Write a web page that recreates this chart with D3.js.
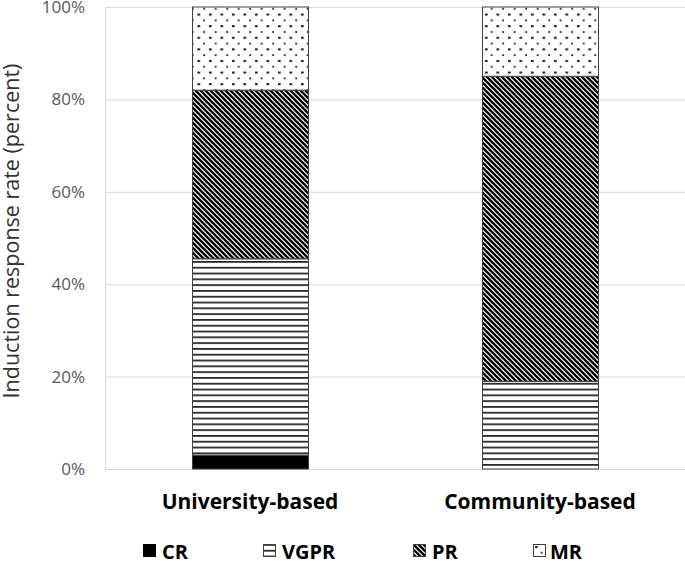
<!DOCTYPE html>
<html><head><meta charset="utf-8">
<script src="https://cdn.jsdelivr.net/npm/d3@7"></script>
<style>body{margin:0;background:#fff;} svg{display:block;}</style>
</head><body>
<svg id="c" width="685" height="561"></svg>
<script>
const categories = ["University-based", "Community-based"];
const seriesNames = ["CR", "VGPR", "PR", "MR"];
const CR = [3, 0];
const VGPR = [42.5, 19];
const PR = [36.5, 66];
const MR = [18, 15];
const yTicks = [0, 20, 40, 60, 80, 100];

const svg = d3.select("#c");
const m = {l:105, r:685, t:7, b:469};
const font = "'Open Sans', sans-serif";

const defs = svg.append("defs");
// VGPR horizontal lines
const pV = defs.append("pattern").attr("id","pV").attr("patternUnits","userSpaceOnUse")
  .attr("width",8).attr("height",5.8);
pV.append("rect").attr("width",8).attr("height",5.8).attr("fill","#fff");
pV.append("rect").attr("y",0).attr("width",8).attr("height",1.8).attr("fill","#2a2a2a");
// PR diagonal stripes
const pP = defs.append("pattern").attr("id","pP").attr("patternUnits","userSpaceOnUse")
  .attr("width",5).attr("height",5);
pP.append("rect").attr("width",5).attr("height",5).attr("fill","#fff");
pP.append("path").attr("d","M-1,-1 L6,6 M-1,4 L1,6 M4,-1 L6,1").attr("stroke","#000").attr("stroke-width",2.3);
// MR dots
const pM = defs.append("pattern").attr("id","pM").attr("patternUnits","userSpaceOnUse")
  .attr("width",11.5).attr("height",11.6);
pM.append("rect").attr("width",11.5).attr("height",11.6).attr("fill","#fff");
pM.append("rect").attr("x",2).attr("y",2).attr("width",2.6).attr("height",2).attr("fill","#111");
pM.append("rect").attr("x",7.8).attr("y",7.9).attr("width",1.8).attr("height",1.8).attr("fill","#222");

const fills = {CR:"#000", VGPR:"url(#pV)", PR:"url(#pP)", MR:"url(#pM)"};

const x = d3.scaleBand().domain(categories).range([m.l, m.r]).paddingInner(0.6).paddingOuter(0.3);
const y = d3.scaleLinear().domain([0,100]).range([m.b, m.t]);

// gridlines
svg.append("g").selectAll("line").data(yTicks).join("line")
  .attr("x1", m.l).attr("x2", m.r).attr("y1", d=>y(d)+0.5).attr("y2", d=>y(d)+0.5)
  .attr("stroke", "#d9d9d9").attr("stroke-width",1);
// y axis line
svg.append("line").attr("x1",m.l+0.5).attr("x2",m.l+0.5).attr("y1",m.t).attr("y2",m.b)
  .attr("stroke","#d9d9d9");

// y tick labels
const yAxis = d3.axisLeft(y).tickValues(yTicks).tickFormat(d=>d+"%").tickSize(0).tickPadding(20);
const ga = svg.append("g").attr("transform",`translate(${m.l},0)`).call(yAxis);
ga.select(".domain").remove();
ga.selectAll("text").attr("font-family",font).attr("font-size",17).attr("fill","#595959");

// stacks
const rows = categories.map((c,i)=>({cat:c, CR:CR[i], VGPR:VGPR[i], PR:PR[i], MR:MR[i]}));
const stack = d3.stack().keys(seriesNames)(rows);
svg.append("g").selectAll("g").data(stack).join("g")
  .attr("fill", d=>fills[d.key])
  .selectAll("rect").data(d=>d.filter(p=>p[1]-p[0]>0)).join("rect")
  .attr("x", d=>x(d.data.cat)+0.5).attr("width", x.bandwidth())
  .attr("y", d=>y(d[1])).attr("height", d=>y(d[0])-y(d[1]))
  .attr("stroke","#404040").attr("stroke-width",1);

// category labels
svg.append("g").selectAll("text").data(categories).join("text")
  .attr("x", d=>x(d)+x.bandwidth()/2).attr("y", 509)
  .attr("text-anchor","middle").attr("font-family",font).attr("font-weight","bold")
  .attr("font-size",21).attr("fill","#000").text(d=>d);

// y title
svg.append("text").attr("transform","translate(19,231) rotate(-90)")
  .attr("text-anchor","middle").attr("font-family",font).attr("font-size",21.5).attr("fill","#333")
  .text("Induction response rate (percent)");

// legend
const legX = [143, 263, 413, 533];
const lg = svg.append("g").selectAll("g").data(seriesNames).join("g")
  .attr("transform",(d,i)=>`translate(${legX[i]},544)`);
lg.append("rect").attr("x",0.5).attr("y",0.5).attr("width",12).attr("height",12)
  .attr("fill", d=>fills[d]).attr("stroke", d=>d==="CR"?"#000":"#404040");
lg.append("text").attr("x",d=>d==="MR"?17:19).attr("y",15).attr("font-family",font).attr("font-weight","bold")
  .attr("font-size",20).attr("fill","#000").text(d=>d);
</script>
</body></html>
